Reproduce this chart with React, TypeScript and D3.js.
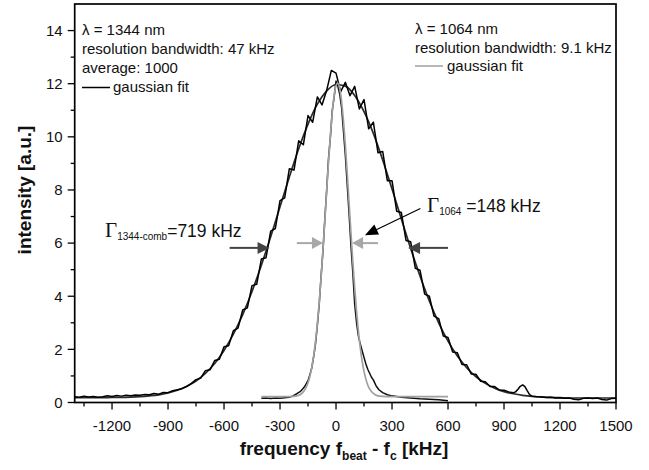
import React from "react";
import * as d3 from "d3";

// λ = 1344 nm beat signal (measured)
const broadFreq = [
  -1400, -1375, -1350, -1325, -1300, -1275, -1250, -1225,
  -1200, -1175, -1150, -1125, -1100, -1075, -1050, -1025,
  -1000, -975, -950, -925, -900, -875, -850, -825,
  -800, -775, -750, -725, -700, -675, -650, -625,
  -600, -575, -550, -525, -500, -475, -450, -425,
  -400, -375, -350, -325, -300, -275, -250, -225,
  -200, -175, -150, -125, -100, -75, -50, -25,
  0, 25, 50, 75, 100, 125, 150, 175,
  200, 225, 250, 275, 300, 325, 350, 375,
  400, 425, 450, 475, 500, 525, 550, 575,
  600, 625, 650, 675, 700, 725, 750, 775,
  800, 825, 850, 875, 900, 925, 950, 962, 975, 987,
  1000, 1012, 1025, 1037, 1050, 1075, 1100, 1125, 1150, 1175,
  1200, 1225, 1250, 1275, 1300, 1325, 1350, 1375,
  1400, 1425, 1450, 1475, 1500,
];
const broadIntensity = [
  0.22, 0.2, 0.24, 0.21, 0.23, 0.2, 0.22, 0.25,
  0.23, 0.26, 0.24, 0.27, 0.25, 0.28, 0.27, 0.3,
  0.29, 0.34, 0.31, 0.38, 0.37, 0.44, 0.48, 0.52,
  0.6, 0.72, 0.86, 0.92, 1.2, 1.23, 1.58, 1.63,
  2.1, 2.14, 2.7, 2.8, 3.48, 3.56, 4.4, 4.45,
  5.4, 5.45, 6.45, 6.55, 7.6, 7.7, 8.8, 8.75,
  9.85, 9.7, 10.8, 10.55, 11.5, 11.2, 11.75, 12.5,
  12.4, 11.7, 12.05, 11.55, 11.9, 11.05, 11.4, 10.3,
  10.55, 9.4, 9.45, 8.35, 8.35, 7.2, 7.15, 6.1,
  6.05, 5.05, 4.98, 4.08, 4.0, 3.25, 3.16, 2.5,
  2.45, 1.9, 1.87, 1.43, 1.42, 1.07, 1.06, 0.8,
  0.78, 0.6, 0.6, 0.47, 0.46, 0.4, 0.37, 0.4, 0.5, 0.61,
  0.66, 0.6, 0.44, 0.3, 0.24, 0.22, 0.21, 0.19, 0.2, 0.17,
  0.18, 0.16, 0.17, 0.12, 0.1, 0.16, 0.17, 0.15,
  0.17, 0.11, 0.09, 0.15, 0.16,
];

// gaussian fit of the 1344 nm signal
const broadFitFreq = [
  -1400, -1350, -1300, -1250, -1200, -1150, -1100, -1050,
  -1000, -950, -900, -850, -800, -750, -700, -650,
  -600, -550, -500, -450, -400, -350, -300, -250,
  -200, -150, -100, -50, 0, 50, 100, 150,
  200, 250, 300, 350, 400, 450, 500, 550,
  600, 650, 700, 750, 800, 850, 900, 950,
  1000, 1050, 1100, 1150, 1200, 1250, 1300, 1350,
  1400, 1450, 1500,
];
const broadFitIntensity = [
  0.18, 0.18, 0.18, 0.18, 0.19, 0.19, 0.2, 0.22,
  0.25, 0.29, 0.36, 0.46, 0.61, 0.81, 1.1, 1.47,
  1.96, 2.57, 3.31, 4.18, 5.17, 6.24, 7.37, 8.49,
  9.55, 10.48, 11.23, 11.73, 11.97, 11.91, 11.56, 10.95,
  10.13, 9.13, 8.04, 6.91, 5.8, 4.76, 3.82, 3.0,
  2.31, 1.75, 1.31, 0.97, 0.72, 0.54, 0.41, 0.33,
  0.27, 0.23, 0.21, 0.19, 0.18, 0.17, 0.17, 0.17,
  0.17, 0.17, 0.17,
];

// λ = 1064 nm beat signal (measured)
const narrowFreq = [
  -400, -375, -350, -325, -300, -275, -250, -230, -210, -190,
  -180, -170, -160, -150, -140, -130, -120, -110, -100, -90,
  -80, -70, -60, -50, -40, -30, -20, -10, 0, 10,
  20, 30, 40, 50, 60, 70, 80, 90, 100, 110,
  120, 130, 140, 150, 160, 170, 180, 190, 200, 215,
  230, 250, 275, 300, 350, 400, 450, 500, 550, 600,
];
const narrowIntensity = [
  0.16, 0.17, 0.15, 0.17, 0.16, 0.18, 0.2, 0.25, 0.33, 0.42,
  0.5, 0.58, 0.7, 0.82, 1.05, 1.3, 1.72, 2.2, 2.9, 3.7,
  4.75, 5.7, 6.9, 8.0, 9.2, 10.0, 11.0, 11.5, 12.1, 11.9,
  11.6, 11.1, 10.2, 9.3, 8.2, 7.1, 5.9, 4.9, 3.7, 3.0,
  2.5, 2.2, 1.95, 1.7, 1.45, 1.25, 1.1, 0.95, 0.85, 0.62,
  0.48, 0.37, 0.29, 0.25, 0.2, 0.17, 0.14, 0.12, 0.1, 0.07,
];

// gaussian fit of the 1064 nm signal
const narrowFitFreq = [
  -400, -350, -300, -250, -200, -180, -160, -150, -140, -130,
  -120, -110, -100, -90, -80, -70, -60, -50, -40, -30,
  -20, -10, 0, 10, 20, 30, 40, 50, 60, 70,
  80, 90, 100, 110, 120, 130, 140, 150, 160, 170,
  180, 200, 220, 250, 300, 350, 400, 500, 600,
];
const narrowFitIntensity = [
  0.22, 0.22, 0.22, 0.22, 0.27, 0.36, 0.57, 0.74, 0.98, 1.31,
  1.74, 2.29, 2.97, 3.77, 4.7, 5.74, 6.84, 7.97, 9.07, 10.07,
  10.92, 11.55, 11.93, 12.02, 11.81, 11.33, 10.6, 9.69, 8.64, 7.52,
  6.39, 5.31, 4.32, 3.43, 2.68, 2.06, 1.56, 1.17, 0.88, 0.66,
  0.51, 0.34, 0.26, 0.23, 0.22, 0.22, 0.22, 0.22, 0.22,
];

const xTickValues = [-1200, -900, -600, -300, 0, 300, 600, 900, 1200, 1500];
const xMinorTicks = [-1350, -1050, -750, -450, -150, 150, 450, 750, 1050, 1350];
const yTickValues = [0, 2, 4, 6, 8, 10, 12, 14];
const yMinorTicks = [1, 3, 5, 7, 9, 11, 13];

// FWHM markers (kHz, intensity)
const arrows1344 = [
  { from: -570, to: -356, level: 5.82 },
  { from: 600, to: 386, level: 5.82 },
];
const arrows1064 = [
  { from: -210, to: -70, level: 6.0 },
  { from: 225, to: 86, level: 6.0 },
];
const pointer1064 = { fromF: 452, fromI: 7.3, toF: 155, toI: 6.3 };

const W = 649;
const H = 470;
const SANS = "'Liberation Sans', Arial, sans-serif";
const SERIF = "'Liberation Serif', 'Times New Roman', serif";

function Arrow({ x1, y1, x2, y2, color, width, headLen, headHalf }) {
  const dx = x2 - x1;
  const dy = y2 - y1;
  const len = Math.sqrt(dx * dx + dy * dy);
  const ux = dx / len;
  const uy = dy / len;
  const bx = x2 - ux * headLen;
  const by = y2 - uy * headLen;
  const px = -uy * headHalf;
  const py = ux * headHalf;
  return (
    <g>
      <line x1={x1} y1={y1} x2={bx + ux} y2={by + uy} stroke={color} strokeWidth={width} />
      <polygon points={`${x2},${y2} ${bx + px},${by + py} ${bx - px},${by - py}`} fill={color} />
    </g>
  );
}

export default function App() {
  const x = d3.scaleLinear().domain([-1400, 1500]).range([74.7, 616]);
  const y = d3.scaleLinear().domain([0, 15]).range([402.5, 4]);

  const path = (fx: number[], fy: number[], curve: any) =>
    d3
      .line<number>()
      .x((_, i) => x(fx[i]))
      .y((d) => y(d))
      .curve(curve)(fy) || "";

  const x0 = x(-1400);
  const x1 = x(1500);
  const yb = y(0);
  const yt = y(15);

  return (
    <svg
      width={W}
      height={H}
      viewBox={`0 0 ${W} ${H}`}
      style={{ position: "absolute", left: 0, top: 0, background: "#fff" }}
    >
      <rect x={0} y={0} width={W} height={H} fill="#fff" />

      {/* curves */}
      <path d={path(broadFitFreq, broadFitIntensity, d3.curveMonotoneX)} fill="none" stroke="#2a2a2a" strokeWidth={1.7} />
      <path d={path(broadFreq, broadIntensity, d3.curveLinear)} fill="none" stroke="#000" strokeWidth={1.5} strokeLinejoin="round" />
      <path d={path(narrowFreq, narrowIntensity, d3.curveLinear)} fill="none" stroke="#111" strokeWidth={1.5} strokeLinejoin="round" />
      <path d={path(narrowFitFreq, narrowFitIntensity, d3.curveMonotoneX)} fill="none" stroke="#a0a0a0" strokeWidth={1.7} />

      {/* frame */}
      <rect x={x0} y={yt} width={x1 - x0} height={yb - yt} fill="none" stroke="#000" strokeWidth={1.7} />

      {/* x ticks */}
      {xTickValues.map((t) => (
        <g key={"xt" + t}>
          <line x1={x(t)} x2={x(t)} y1={yb} y2={yb + 7} stroke="#000" strokeWidth={1.3} />
          <text x={x(t)} y={431} textAnchor="middle" fontFamily={SANS} fontSize={15} fill="#111">
            {String(t)}
          </text>
        </g>
      ))}
      {xMinorTicks.map((t) => (
        <line key={"xm" + t} x1={x(t)} x2={x(t)} y1={yb} y2={yb + 4} stroke="#000" strokeWidth={1.3} />
      ))}

      {/* y ticks */}
      {yTickValues.map((t) => (
        <g key={"yt" + t}>
          <line x1={x0 - 7} x2={x0} y1={y(t)} y2={y(t)} stroke="#000" strokeWidth={1.3} />
          <text x={x0 - 12} y={y(t) + 5.3} textAnchor="end" fontFamily={SANS} fontSize={15} fill="#111">
            {String(t)}
          </text>
        </g>
      ))}
      {yMinorTicks.map((t) => (
        <line key={"ym" + t} x1={x0 - 4} x2={x0} y1={y(t)} y2={y(t)} stroke="#000" strokeWidth={1.3} />
      ))}

      {/* axis titles */}
      <text
        transform={`translate(31,190) rotate(-90)`}
        textAnchor="middle"
        fontFamily={SANS}
        fontWeight="bold"
        fontSize={19}
        fill="#111"
      >
        intensity [a.u.]
      </text>
      <text x={344} y={455} textAnchor="middle" fontFamily={SANS} fontWeight="bold" fontSize={19} fill="#111">
        frequency f
        <tspan fontSize={12} dy={5}>beat</tspan>
        <tspan dy={-5}> - f</tspan>
        <tspan fontSize={12} dy={5}>c</tspan>
        <tspan dy={-5}> [kHz]</tspan>
      </text>

      {/* legend left */}
      <g fontFamily={SANS} fontSize={15} fill="#111">
        <text x={82} y={35}>λ = 1344 nm</text>
        <text x={82} y={54}>resolution bandwidth: 47 kHz</text>
        <text x={82} y={73}>average: 1000</text>
        <line x1={82} x2={110} y1={87.5} y2={87.5} stroke="#000" strokeWidth={1.5} />
        <text x={113} y={92}>gaussian fit</text>
      </g>

      {/* legend right */}
      <g fontFamily={SANS} fontSize={15} fill="#111">
        <text x={415} y={34}>λ = 1064 nm</text>
        <text x={415} y={53}>resolution bandwidth: 9.1 kHz</text>
        <line x1={415} x2={443} y1={66} y2={66} stroke="#a0a0a0" strokeWidth={1.5} />
        <text x={447} y={71}>gaussian fit</text>
      </g>

      {/* FWHM arrows */}
      {arrows1344.map((a, i) => (
        <Arrow
          key={"a1344" + i}
          x1={x(a.from)}
          y1={y(a.level)}
          x2={x(a.to)}
          y2={y(a.level)}
          color="#444"
          width={2}
          headLen={12}
          headHalf={6}
        />
      ))}
      {arrows1064.map((a, i) => (
        <Arrow
          key={"a1064" + i}
          x1={x(a.from)}
          y1={y(a.level)}
          x2={x(a.to)}
          y2={y(a.level)}
          color="#a8a8a8"
          width={2}
          headLen={11}
          headHalf={6}
        />
      ))}
      <Arrow
        x1={x(pointer1064.fromF)}
        y1={y(pointer1064.fromI)}
        x2={x(pointer1064.toF)}
        y2={y(pointer1064.toI)}
        color="#000"
        width={1.2}
        headLen={13}
        headHalf={5.5}
      />

      {/* annotations */}
      <text x={105} y={236.5} fill="#111">
        <tspan fontFamily={SERIF} fontSize={21}>Γ</tspan>
        <tspan fontFamily={SANS} fontSize={10} dy={3}>1344-comb</tspan>
        <tspan fontFamily={SANS} fontSize={17.5} dy={-3}>=719 kHz</tspan>
      </text>
      <text x={427} y={212} fill="#111">
        <tspan fontFamily={SERIF} fontSize={21}>Γ</tspan>
        <tspan fontFamily={SANS} fontSize={10} dy={3}>1064</tspan>
        <tspan fontFamily={SANS} fontSize={17.5} dy={-3}> =148 kHz</tspan>
      </text>
    </svg>
  );
}
